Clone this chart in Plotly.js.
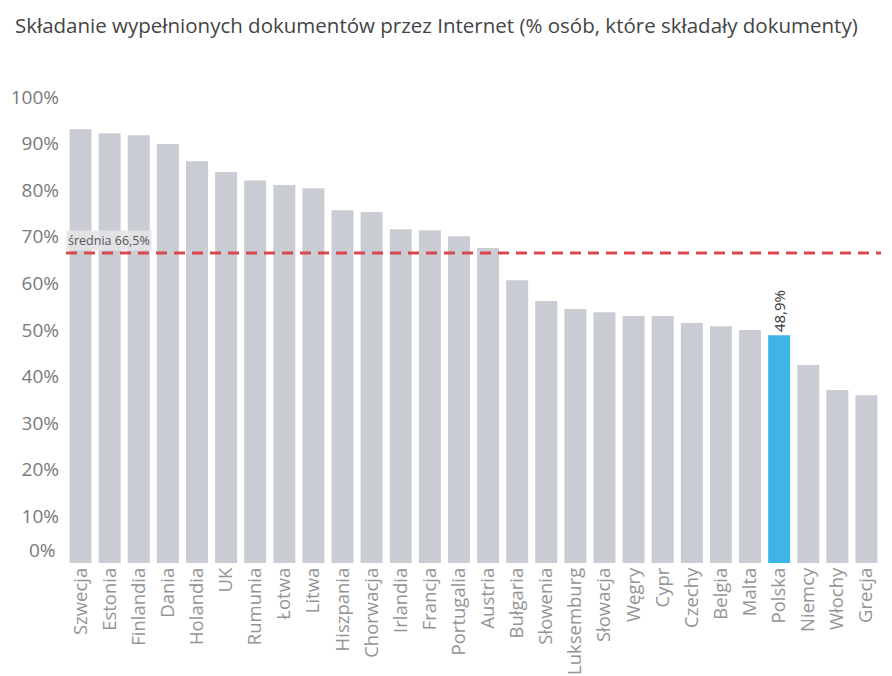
<!DOCTYPE html>
<html>
<head>
<meta charset="utf-8">
<script src="https://cdn.plot.ly/plotly-3.0.1.min.js"></script>
<style>html,body{margin:0;padding:0;background:#fff;}#chart{width:892px;height:676px;}</style>
</head>
<body>
<div id="chart"></div>
<script>
const countries = ["Szwecja","Estonia","Finlandia","Dania","Holandia","UK","Rumunia","Łotwa","Litwa","Hiszpania","Chorwacja","Irlandia","Francja","Portugalia","Austria","Bułgaria","Słowenia","Luksemburg","Słowacja","Węgry","Cypr","Czechy","Belgia","Malta","Polska","Niemcy","Włochy","Grecja"];
const values = [93.1,92.2,91.8,89.9,86.2,83.9,82.1,81.1,80.4,75.7,75.3,71.6,71.4,70.1,67.6,60.7,56.2,54.5,53.8,53.0,53.0,51.5,50.8,50.0,48.9,42.5,37.1,36.0];
const highlight = "Polska";
const average = 66.5;
const averageLabel = "średnia 66,5%";
const yTickVals = [10,20,30,40,50,60,70,80,90,100];
const yTickText = ["10%","20%","30%","40%","50%","60%","70%","80%","90%","100%"];
const zeroLabel = "0%";
const titleText = "Składanie wypełnionych dokumentów przez Internet (% osób, które składały dokumenty)";

const grey = "#c9ccd3", blue = "#3db5e6";
const colors = countries.map(c => c === highlight ? blue : grey);
const texts = countries.map((c,i) => c === highlight ? values[i].toFixed(1).replace('.', ',') + '%' : '');

const trace = {
  type: 'bar', x: countries, y: values,
  marker: {color: colors},
  text: texts, textposition: 'outside', textangle: -90,
  textfont: {family: 'Open Sans, sans-serif', size: 15, color: '#333'},
  constraintext: 'none', cliponaxis: false,
  hoverinfo: 'x+y'
};

const layout = {
  width: 892, height: 676,
  margin: {l: 65.5, r: 10.5, t: 96.7, b: 113},
  paper_bgcolor: '#fff', plot_bgcolor: '#fff',
  bargap: 0.245,
  showlegend: false,
  title: {text: titleText, x: 15/892, xanchor: 'left', xref: 'container', y: 0.962, yanchor: 'middle', yref: 'container',
          font: {family: 'Open Sans, sans-serif', size: 20.5, color: '#444'}},
  xaxis: {type: 'category', tickangle: -90, showgrid: false, showline: false, zeroline: false, ticks: '',
          tickfont: {family: 'Open Sans, sans-serif', size: 18.5, color: '#949494'}, automargin: false},
  yaxis: {range: [0, 100], tickvals: yTickVals, ticktext: yTickText, showgrid: false, showline: false, zeroline: false, ticks: '',
          ticklabelstandoff: 6,
          tickfont: {family: 'Open Sans, sans-serif', size: 19, color: '#7a7a7a'}, automargin: false},
  shapes: [{type: 'line', xref: 'paper', x0: 0, x1: 1, yref: 'y', y0: average, y1: average,
            line: {color: '#d9474f', width: 3, dash: '11px,7px'}, layer: 'above'}],
  annotations: [
    {xref: 'paper', x: 0, yref: 'y', y: average, xanchor: 'left', yanchor: 'bottom', yshift: 2, text: averageLabel,
     showarrow: false, bgcolor: 'rgba(228,228,231,0.9)', borderpad: 1,
     font: {family: 'Open Sans, sans-serif', size: 12.5, color: '#555'}},
    {xref: 'paper', x: 0, xshift: -8, yref: 'y', y: 0, yshift: 13, xanchor: 'right', yanchor: 'middle', text: zeroLabel,
     showarrow: false, font: {family: 'Open Sans, sans-serif', size: 19, color: '#7a7a7a'}}
  ]
};

Plotly.newPlot('chart', [trace], layout, {displayModeBar: false, responsive: false});
</script>
</body>
</html>
